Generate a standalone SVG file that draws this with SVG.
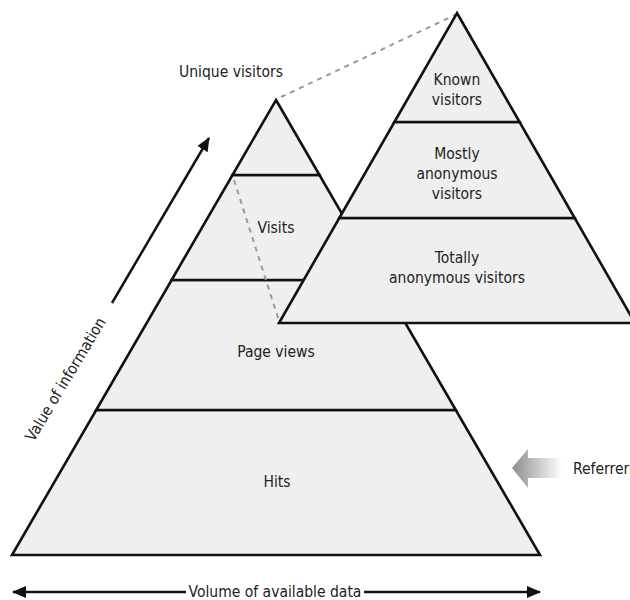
<svg xmlns="http://www.w3.org/2000/svg" width="630" height="600" viewBox="0 0 630 600">
  <defs>
    <style>
      .layer { fill: #efefef; stroke: #111; stroke-width: 2.6; stroke-linejoin: miter; }
      .lbl { font-family: "DejaVu Sans Condensed", "DejaVu Sans", "Liberation Sans", sans-serif; font-stretch: condensed; font-size: 15.5px; fill: #222; text-anchor: middle; }
      .dash { fill: none; stroke: #9a9a9a; stroke-width: 2; stroke-dasharray: 5 5; }
      .axis { fill: none; stroke: #111; stroke-width: 2.5; }
    </style>
    <marker id="head" viewBox="0 0 14 12" refX="13" refY="6" markerWidth="14" markerHeight="12" markerUnits="userSpaceOnUse" orient="auto-start-reverse">
      <path d="M0,0 L14,6 L0,12 Z" fill="#111"/>
    </marker>
    <linearGradient id="refgrad" x1="0" y1="0" x2="1" y2="0">
      <stop offset="0" stop-color="#8c8c8c"/>
      <stop offset="1" stop-color="#ffffff"/>
    </linearGradient>
  </defs>

  <!-- Big pyramid -->
  <g id="hits">
    <polygon class="layer" points="96.2,410 455.8,410 540,555 12,555"/>
    <text class="lbl" x="277" y="487">Hits</text>
  </g>
  <g id="page-views">
    <polygon class="layer" points="171.6,280 380.4,280 455.8,410 96.2,410"/>
    <text class="lbl" x="276" y="357">Page views</text>
  </g>
  <g id="visits">
    <polygon class="layer" points="232.5,175 319.5,175 380.4,280 171.6,280"/>
    <text class="lbl" x="276" y="233">Visits</text>
  </g>
  <g id="unique-visitors">
    <polygon class="layer" points="276,100 319.5,175 232.5,175"/>
    <text class="lbl" x="231" y="77">Unique visitors</text>
  </g>

  <!-- Connectors -->
  <g id="connectors">
    <line class="dash" x1="234" y1="180" x2="279" y2="321"/>
    <line class="dash" x1="281" y1="97" x2="455" y2="15"/>
    <line class="axis" x1="112" y1="303" x2="209" y2="138" marker-end="url(#head)"/>
    <line class="axis" x1="13" y1="592" x2="186" y2="592" marker-start="url(#head)"/>
    <line class="axis" x1="364" y1="592" x2="540" y2="592" marker-end="url(#head)"/>
  </g>

  <!-- Right pyramid (breakdown of unique visitors) -->
  <g id="totally-anonymous">
    <polygon class="layer" points="339.3,218 574.7,218 635,323 279,323"/>
    <text class="lbl" x="457" y="263">Totally</text>
    <text class="lbl" x="457" y="283">anonymous visitors</text>
  </g>
  <g id="mostly-anonymous">
    <polygon class="layer" points="394.4,122 519.6,122 574.7,218 339.3,218"/>
    <text class="lbl" x="457" y="159">Mostly</text>
    <text class="lbl" x="457" y="179">anonymous</text>
    <text class="lbl" x="457" y="199">visitors</text>
  </g>
  <g id="known-visitors">
    <polygon class="layer" points="457,13 519.6,122 394.4,122"/>
    <text class="lbl" x="457" y="85">Known</text>
    <text class="lbl" x="457" y="105">visitors</text>
  </g>

  <!-- Axis labels -->
  <g id="value-of-information">
    <text class="lbl" transform="translate(70,382) rotate(-59)" x="0" y="0">Value of information</text>
  </g>
  <g id="volume-of-data">
    <text class="lbl" x="275" y="597">Volume of available data</text>
  </g>

  <!-- Referrers -->
  <g id="referrers">
    <polygon fill="url(#refgrad)" points="512,468 528,449 528,458 562,458 562,478 528,478 528,488"/>
    <text class="lbl" x="573" y="474" style="text-anchor:start">Referrers</text>
  </g>
</svg>
